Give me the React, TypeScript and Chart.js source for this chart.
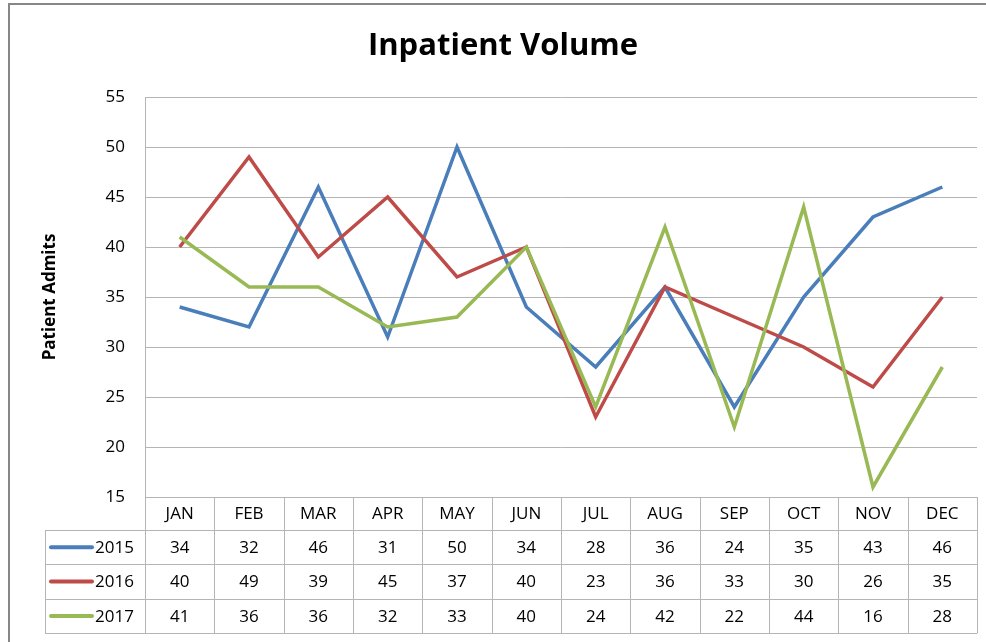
import React, { useEffect, useRef } from "react";
import { Chart, registerables } from "chart.js";

Chart.register(...registerables);

const months = ["JAN", "FEB", "MAR", "APR", "MAY", "JUN", "JUL", "AUG", "SEP", "OCT", "NOV", "DEC"];
const seriesNames = ["2015", "2016", "2017"];
const values2015 = [34, 32, 46, 31, 50, 34, 28, 36, 24, 35, 43, 46];
const values2016 = [40, 49, 39, 45, 37, 40, 23, 36, 33, 30, 26, 35];
const values2017 = [41, 36, 36, 32, 33, 40, 24, 42, 22, 44, 16, 28];
const seriesColors = ["#4a7ebb", "#be4b48", "#98b954"];
const chartTitle = "Inpatient Volume";
const yTitle = "Patient Admits";
const yMin = 15;
const yMax = 55;
const yStep = 5;

const FONT = "'Open Sans', 'DejaVu Sans', sans-serif";
const GRID = "#b5b5b5";

const decorPlugin = {
  id: "decor",
  beforeDraw(chart: any) {
    const ctx = chart.ctx;
    ctx.save();
    ctx.fillStyle = "#ffffff";
    ctx.fillRect(0, 0, chart.width, chart.height);
    ctx.strokeStyle = "#878787";
    ctx.lineWidth = 2;
    ctx.strokeRect(9, 4, chart.width + 20, chart.height + 20);
    ctx.restore();
  },
  afterDraw(chart: any) {
    const ctx = chart.ctx;
    const area = chart.chartArea;
    const xs = chart.scales.x;
    ctx.save();
    // title
    ctx.fillStyle = "#000000";
    ctx.font = `bold 31px ${FONT}`;
    ctx.textAlign = "center";
    ctx.textBaseline = "middle";
    ctx.fillText(chartTitle, 503, 46);
    // y title
    ctx.save();
    ctx.translate(50, 297);
    ctx.rotate(-Math.PI / 2);
    ctx.font = `bold 17px ${FONT}`;
    ctx.fillText(yTitle, 0, 0);
    ctx.restore();

    // data table
    const n = months.length;
    const step = (area.right - area.left) / n;
    const top = area.bottom;
    const headerH = 33;
    const rowH = 34.4;
    const legendLeft = 45;
    const rows = [values2015, values2016, values2017];
    const bottom = top + headerH + rowH * rows.length;
    ctx.strokeStyle = GRID;
    ctx.lineWidth = 1;
    ctx.beginPath();
    for (let i = 0; i <= n; i++) {
      const x = Math.round(area.left + step * i) + 0.5;
      ctx.moveTo(x, top);
      ctx.lineTo(x, bottom);
    }
    ctx.moveTo(legendLeft + 0.5, top + headerH);
    ctx.lineTo(legendLeft + 0.5, bottom);
    for (let r = 0; r <= rows.length; r++) {
      const y = Math.round(top + headerH + rowH * r) + 0.5;
      ctx.moveTo(legendLeft, y);
      ctx.lineTo(area.right, y);
    }
    ctx.stroke();

    ctx.fillStyle = "#000000";
    ctx.font = `17px ${FONT}`;
    ctx.textAlign = "center";
    ctx.textBaseline = "middle";
    for (let i = 0; i < n; i++) {
      const cx = xs.getPixelForValue(i);
      ctx.fillText(months[i], cx, top + headerH / 2 + 1);
      for (let r = 0; r < rows.length; r++) {
        ctx.fillText(String(rows[r][i]), cx, top + headerH + rowH * r + rowH / 2 + 1);
      }
    }
    for (let r = 0; r < rows.length; r++) {
      const cy = top + headerH + rowH * r + rowH / 2;
      ctx.strokeStyle = seriesColors[r];
      ctx.lineWidth = 4;
      ctx.lineCap = "round";
      ctx.beginPath();
      ctx.moveTo(51, cy);
      ctx.lineTo(92, cy);
      ctx.stroke();
      ctx.textAlign = "left";
      ctx.fillStyle = "#000000";
      ctx.fillText(seriesNames[r], 95, cy + 1);
    }
    ctx.restore();
  },
};

export default function App() {
  const canvasRef = useRef<HTMLCanvasElement | null>(null);
  useEffect(() => {
    if (!canvasRef.current) return;
    const allValues = [values2015, values2016, values2017];
    const chart = new Chart(canvasRef.current, {
      type: "line",
      data: {
        labels: months,
        datasets: allValues.map((vals, i) => ({
          label: seriesNames[i],
          data: vals,
          borderColor: seriesColors[i],
          backgroundColor: seriesColors[i],
          borderWidth: 3.5,
          pointRadius: 0,
          tension: 0,
          fill: false,
          order: allValues.length - i,
        })),
      },
      options: {
        responsive: false,
        animation: false,
        layout: { padding: { left: 0, right: 9, top: 97, bottom: 145 } },
        plugins: {
          legend: { display: false },
          title: { display: false },
          tooltip: { enabled: false },
        },
        scales: {
          x: {
            type: "category",
            display: false,
            offset: true,
            grid: { display: false },
          },
          y: {
            min: yMin,
            max: yMax,
            afterFit: (s: any) => {
              s.width = 145;
            },
            ticks: {
              stepSize: yStep,
              padding: 20,
              color: "#000000",
              font: { family: FONT, size: 17 },
            },
            grid: { color: GRID, drawTicks: false, lineWidth: 1 },
            border: { color: GRID, width: 1 },
          },
        },
      },
      plugins: [decorPlugin],
    });
    return () => chart.destroy();
  }, []);
  return (
    <div style={{ position: "absolute", left: 0, top: 0, width: 986, height: 642 }}>
      <canvas ref={canvasRef} width={986} height={642} />
    </div>
  );
}
